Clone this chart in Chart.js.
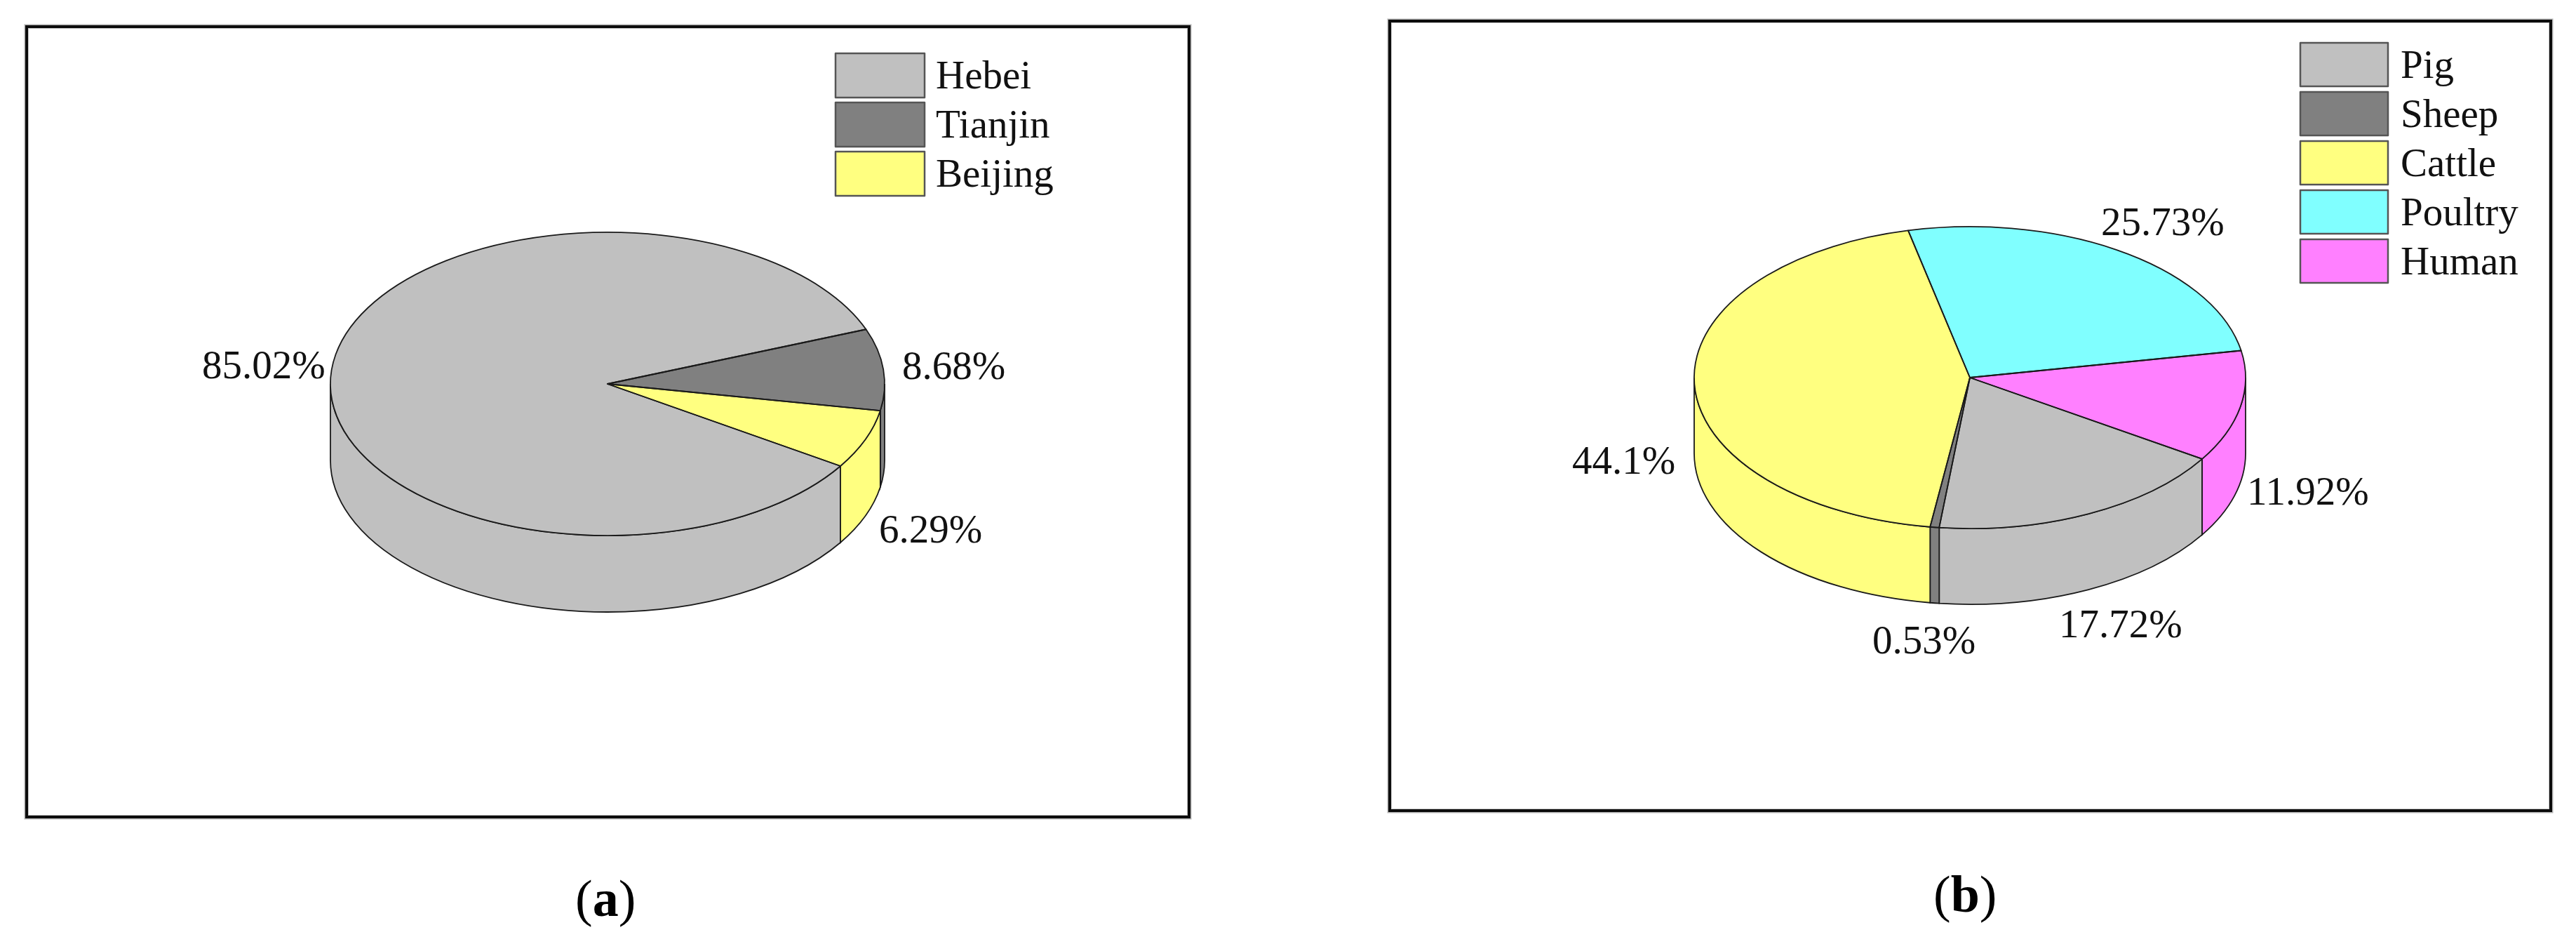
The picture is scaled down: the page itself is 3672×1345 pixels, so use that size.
<!DOCTYPE html>
<html>
<head>
<meta charset="utf-8">
<script src="https://cdn.jsdelivr.net/npm/chart.js@4/dist/chart.umd.min.js"></script>
<style>
html,body{margin:0;padding:0;background:#fff;width:3672px;height:1345px;overflow:hidden}
canvas{position:absolute;display:block}
.frame{position:absolute;box-sizing:border-box;border:4px solid #0c0c0c;pointer-events:none;
  box-shadow:0 0 0 1.5px #b4b4b4, inset 0 0 0 1px #c8c8c8}
.cap{position:absolute;font-family:"Liberation Serif",serif;font-size:74px;color:#000;line-height:1;white-space:nowrap}
</style>
</head>
<body>
<canvas id="pieA"></canvas>
<canvas id="pieB"></canvas>
<div class="cap" id="capA">(<b>a</b>)</div>
<div class="cap" id="capB">(<b>b</b>)</div>
<script>
// ---- data ----
const regionLabels = ['Hebei', 'Tianjin', 'Beijing'];
const regionValues = [85.02, 8.68, 6.29];
const regionColors = ['#C0C0C0', '#808080', '#FFFF80'];

const sourceLabels = ['Pig', 'Sheep', 'Cattle', 'Poultry', 'Human'];
const sourceValues = [17.72, 0.53, 44.1, 25.73, 11.92];
const sourceColors = ['#C0C0C0', '#808080', '#FFFF80', '#80FFFF', '#FF80FF'];

// ---- layout (page pixels) ----
const layoutA = {
  frame: {l: 36, t: 36, r: 1697, b: 1166},
  cx: 866, cy: 547, rx: 395, ry: 216, depth: 109, rotation: 122.8,
  legend: {x: 1191, y: 76, w: 127, h: 63, step: 70, textX: 1334},
  anchors: [[288, 539], [1286, 540], [1253, 773]],
  caption: {id: 'capA', x: 820, baseline: 1305}
};
const layoutB = {
  frame: {l: 1979, t: 28, r: 3638, b: 1157},
  cx: 2808, cy: 538, rx: 393, ry: 215, depth: 108, rotation: 122.6,
  legend: {x: 3279, y: 61, w: 125, h: 62, step: 70, textX: 3422},
  anchors: [[2935, 908], [2669, 931], [2241, 675], [2995, 335], [3203, 719]],
  caption: {id: 'capB', x: 2756, baseline: 1299}
};

const FONT = '57px "Liberation Serif", serif';
const EDGE = '#1a1a1a';
const EDGE_W = 1.8;

const pie3d = {
  id: 'pie3d',
  beforeDatasetsDraw(chart, args, o) {
    const ctx = chart.ctx, arcs = chart.getDatasetMeta(0).data;
    const k = o.ry / o.rx;
    ctx.lineWidth = EDGE_W;
    ctx.strokeStyle = EDGE;
    // side wall: the part of every slice that lies on the near half of the ellipse
    arcs.forEach((el, i) => {
      const x = el.x, y = el.y, rx = el.outerRadius, ry = rx * k;
      const span = el.endAngle - el.startAngle;
      let s = el.startAngle % (2 * Math.PI);
      if (s < 0) s += 2 * Math.PI;
      const e = s + span;
      [[0, Math.PI], [2 * Math.PI, 3 * Math.PI]].forEach(([lo, hi]) => {
        const a = Math.max(s, lo), b = Math.min(e, hi);
        if (b <= a) return;
        ctx.beginPath();
        ctx.ellipse(x, y, rx, ry, 0, a, b);
        ctx.lineTo(x + rx * Math.cos(b), y + ry * Math.sin(b) + o.depth);
        ctx.ellipse(x, y + o.depth, rx, ry, 0, b, a, true);
        ctx.closePath();
        ctx.fillStyle = chart.data.datasets[0].backgroundColor[i];
        ctx.fill();
        ctx.stroke();
      });
    });
    // top face: the library's arcs, flattened into the ellipse
    ctx.save();
    const c = arcs[0];
    ctx.translate(c.x, c.y);
    ctx.scale(1, k);
    ctx.translate(-c.x, -c.y);
  },
  afterDatasetsDraw(chart, args, o) {
    const ctx = chart.ctx, arcs = chart.getDatasetMeta(0).data;
    ctx.restore();
    const k = o.ry / o.rx;
    ctx.save();
    ctx.lineWidth = EDGE_W;
    ctx.strokeStyle = EDGE;
    ctx.lineJoin = 'round';
    arcs.forEach(el => {
      ctx.beginPath();
      ctx.moveTo(el.x, el.y);
      ctx.ellipse(el.x, el.y, el.outerRadius, el.outerRadius * k, 0, el.startAngle, el.endAngle);
      ctx.closePath();
      ctx.stroke();
    });
    // value labels
    const ds = chart.data.datasets[0];
    ctx.font = FONT;
    ctx.fillStyle = '#111';
    ctx.textBaseline = 'alphabetic';
    ctx.textAlign = 'left';
    ds.data.forEach((v, i) => {
      ctx.fillText(v + '%', o.anchors[i][0] - o.originX, o.anchors[i][1] - o.originY);
    });
    // legend
    chart.data.labels.forEach((t, i) => {
      const L = o.legend, x = L.x - o.originX, y = L.y - o.originY + i * L.step;
      ctx.fillStyle = ds.backgroundColor[i];
      ctx.fillRect(x, y, L.w, L.h);
      ctx.lineWidth = 2.5;
      ctx.strokeStyle = '#555';
      ctx.strokeRect(x, y, L.w, L.h);
      ctx.fillStyle = '#111';
      ctx.font = FONT;
      ctx.textBaseline = 'alphabetic';
      ctx.fillText(t, L.textX - o.originX, y + 50);
    });
    ctx.restore();
  }
};

function build(id, labels, values, colors, L) {
  const f = L.frame, W = f.r - f.l, H = f.b - f.t;
  const cv = document.getElementById(id);
  cv.width = W; cv.height = H;
  cv.style.left = f.l + 'px'; cv.style.top = f.t + 'px';
  cv.style.width = W + 'px'; cv.style.height = H + 'px';
  const frame = document.createElement('div');
  frame.className = 'frame';
  frame.style.cssText = `left:${f.l}px;top:${f.t}px;width:${W}px;height:${H}px`;
  document.body.appendChild(frame);
  const cap = document.getElementById(L.caption.id);
  cap.style.left = L.caption.x + 'px';
  cap.style.top = (L.caption.baseline - 62) + 'px';
  const cx = L.cx - f.l, cy = L.cy - f.t;
  return new Chart(cv, {
    type: 'pie',
    data: {
      labels,
      datasets: [{
        data: values,
        backgroundColor: colors,
        borderWidth: 0,
        radius: L.rx,
        rotation: L.rotation,
        clip: false
      }]
    },
    plugins: [pie3d],
    options: {
      responsive: false,
      animation: false,
      devicePixelRatio: 1,
      events: [],
      layout: {padding: {
        left: Math.max(0, 2 * cx - W), right: Math.max(0, W - 2 * cx),
        top: Math.max(0, 2 * cy - H), bottom: Math.max(0, H - 2 * cy)
      }},
      plugins: {
        legend: {display: false},
        tooltip: {enabled: false},
        title: {display: false},
        pie3d: {
          ry: L.ry, rx: L.rx, depth: L.depth, anchors: L.anchors, legend: L.legend,
          originX: f.l, originY: f.t
        }
      }
    }
  });
}

build('pieA', regionLabels, regionValues, regionColors, layoutA);
build('pieB', sourceLabels, sourceValues, sourceColors, layoutB);
</script>
</body>
</html>
